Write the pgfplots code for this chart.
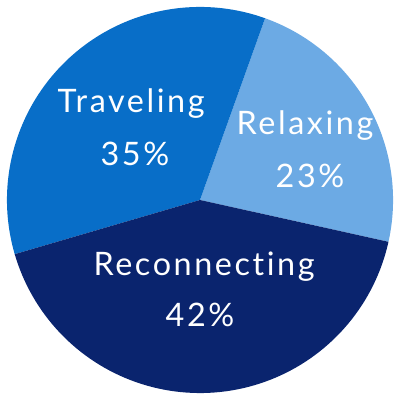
\documentclass[border=0pt]{standalone}
\usepackage{pgfplots}
\usepackage{pgfplotstable}
\pgfplotsset{compat=1.18}
\usepackage{fontspec}
\setmainfont{Lato}[LetterSpace=8.0, Ligatures=NoCommon]

\definecolor{relaxing}{RGB}{108,170,228}
\definecolor{traveling}{RGB}{8,110,200}
\definecolor{reconnecting}{RGB}{10,36,110}

\tikzset{lbl/.style={text=white, font=\fontsize{23}{28}\selectfont, anchor=base}}

% shares in percent
\pgfplotstableread{
label share
Relaxing 23
Traveling 35
Reconnecting 42
}\piedata

\begin{document}
\begin{tikzpicture}
\pgfplotstablegetelem{0}{share}\of\piedata \let\sA\pgfplotsretval
\pgfplotstablegetelem{1}{share}\of\piedata \let\sB\pgfplotsretval
\pgfplotstablegetelem{2}{share}\of\piedata \let\sC\pgfplotsretval
\pgfmathsetmacro{\aA}{-12.5}
\pgfmathsetmacro{\aB}{\aA+3.6*\sA}
\pgfmathsetmacro{\aC}{\aB+3.6*\sB}
\pgfmathsetmacro{\aD}{\aC+3.6*\sC}
\begin{axis}[
  scale only axis, width=10cm, height=10cm,
  xmin=-1.036, xmax=1.036, ymin=-1.036, ymax=1.036,
  hide axis, clip=false,
  every axis plot/.append style={draw=none, samples=90},
]
\addplot[draw=none] coordinates {(-1.036,-1.036) (1.036,1.036)};
\addplot[fill=relaxing, data cs=polar, domain=\aA:\aB] ({x},{1}) -- (axis cs:0,0) -- cycle;
\addplot[fill=traveling, data cs=polar, domain=\aB:\aC] ({x},{1}) -- (axis cs:0,0) -- cycle;
\addplot[fill=reconnecting, data cs=polar, domain=\aC:\aD] ({x},{1}) -- (axis cs:0,0) -- cycle;

\node[lbl] at (axis cs:-0.357,0.451) {Traveling};
\node[lbl] at (axis cs:-0.337,0.181) {35\%};
\node[lbl] at (axis cs:0.544,0.337) {Relaxing};
\node[lbl] at (axis cs:0.570,0.067) {23\%};
\node[lbl] at (axis cs:0.021,-0.389) {Reconnecting};
\node[lbl] at (axis cs:0,-0.653) {42\%};
\end{axis}
\end{tikzpicture}
\end{document}
